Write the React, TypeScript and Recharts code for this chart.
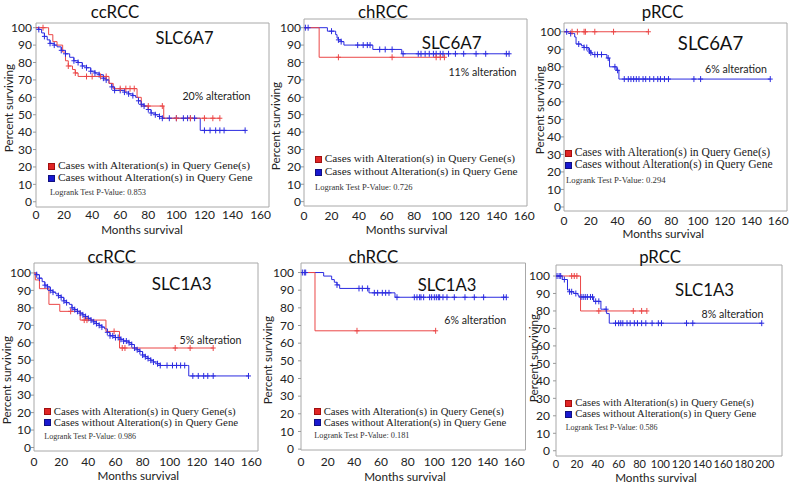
import React from 'react';
import { LineChart, Line, XAxis, YAxis, ReferenceArea } from 'recharts';

type Pt = [number, number, number];

// [month, percent surviving, censored mark]
const ccSlc6a7With: Pt[] = [
  [0, 100, 0], [5, 100, 1], [8, 100, 0], [9, 96, 0], [12, 92, 0], [15, 90, 0], [19, 86, 0], [21, 81, 0],
  [23, 78, 1], [26, 76, 0], [28, 74, 1], [30, 72, 0], [36, 72, 1], [40, 72, 1], [46, 72, 1], [50, 72, 1],
  [52, 68, 0], [55, 65, 0], [60, 65, 1], [64, 65, 1], [67, 65, 1], [70, 65, 1], [72, 60, 0], [75, 55, 0],
  [80, 55, 1], [90, 55, 1], [91, 48, 0], [100, 48, 1], [110, 48, 1], [120, 48, 1], [126, 48, 1], [131, 48, 1],
];
const ccSlc6a7Without: Pt[] = [
  [0, 100, 0], [2, 99, 1], [4, 97, 0], [6, 95, 1], [8, 93, 0], [10, 91, 1], [13, 90, 1], [15, 89, 0],
  [18, 87, 1], [21, 85, 1], [24, 83, 0], [27, 81, 1], [30, 80, 1], [33, 78, 1], [36, 77, 1], [39, 75, 1],
  [42, 74, 1], [45, 73, 1], [48, 71, 1], [50, 70, 1], [52, 68, 0], [54, 66, 1], [56, 64, 1], [60, 64, 1],
  [63, 63, 1], [66, 62, 1], [69, 61, 1], [71, 60, 0], [73, 58, 1], [75, 56, 1], [77, 55, 1], [80, 53, 1],
  [82, 51, 1], [85, 50, 1], [88, 49, 1], [90, 48, 1], [95, 48, 1], [100, 48, 1], [105, 48, 1], [108, 48, 1],
  [110, 48, 1], [113, 48, 1], [116, 48, 0], [117, 41, 0], [120, 41, 1], [124, 41, 1], [128, 41, 1],
  [131, 41, 1], [134, 41, 1], [149, 41, 1],
];

const chSlc6a7With: Pt[] = [
  [0, 100, 0], [11, 100, 0], [11, 83, 0], [25, 83, 1], [64, 83, 1], [96, 83, 1], [99, 83, 1], [102, 83, 1],
];
const chSlc6a7Without: Pt[] = [
  [0, 100, 0], [1, 100, 1], [3, 100, 1], [16, 100, 0], [17, 98, 0], [20, 98, 1], [23, 96, 0], [24, 94, 0],
  [25, 93, 1], [27, 92, 1], [29, 90, 0], [39, 90, 1], [43, 90, 1], [46, 90, 1], [48, 90, 1], [50, 87.5, 0],
  [55, 87.5, 1], [59, 87.5, 1], [64, 87.5, 1], [71, 85, 0], [72, 85, 1], [83, 85, 1], [85, 85, 1], [88, 85, 1],
  [91, 85, 1], [94, 85, 1], [96, 85, 1], [99, 85, 1], [101, 85, 1], [105, 85, 1], [110, 85, 1], [116, 85, 1],
  [125, 85, 1], [132, 85, 1], [147, 85, 1], [149, 85, 1],
];

const pSlc6a7With: Pt[] = [
  [0, 100, 0], [6, 100, 1], [10, 100, 1], [15, 100, 1], [16, 100, 1], [23, 100, 1], [37, 100, 1], [63, 100, 1],
];
const pSlc6a7Without: Pt[] = [
  [0, 100, 0], [2, 100, 1], [4, 100, 0], [5, 99, 1], [7, 99, 0], [8, 97, 0], [9, 93, 0], [11, 93, 1],
  [13, 92, 0], [15, 91, 1], [17, 91, 1], [18, 90, 0], [19, 89, 1], [20, 88, 1], [21, 87, 0], [23, 87, 1],
  [25, 87, 1], [28, 87, 1], [32, 85, 0], [33, 85, 1], [34, 80, 0], [38, 80, 1], [39, 78, 0], [40, 78, 1],
  [41, 73, 0], [45, 73, 1], [48, 73, 1], [50, 73, 1], [52, 73, 1], [54, 73, 1], [56, 73, 1], [59, 73, 1],
  [61, 73, 1], [64, 73, 1], [67, 73, 1], [70, 73, 1], [72, 73, 1], [75, 73, 1], [78, 73, 1], [97, 73, 1],
  [102, 73, 1], [154, 73, 1],
];

const ccSlc1a3With: Pt[] = [
  [0, 100, 0], [1, 96, 0], [4, 91, 0], [11, 82, 0], [19, 78, 0], [27, 78, 1], [34, 73, 0], [37, 73, 1],
  [39, 73, 1], [53, 66.5, 0], [59, 66.5, 1], [63, 57, 0], [65, 57, 1], [67, 57, 1], [104, 57, 1],
  [115, 57, 1], [132, 57, 1],
];
const ccSlc1a3Without: Pt[] = [
  [0, 100, 0], [2, 99, 1], [4, 97, 1], [6, 95, 0], [8, 93, 1], [10, 92, 1], [12, 90, 1], [14, 89, 1],
  [16, 88, 0], [18, 87, 1], [20, 86, 1], [22, 84, 1], [24, 83, 1], [26, 82, 0], [28, 80, 1], [30, 79, 1],
  [32, 78, 1], [34, 77, 1], [36, 76, 1], [38, 75, 1], [40, 74, 1], [42, 73, 1], [44, 72, 1], [46, 71, 1],
  [48, 70, 1], [50, 69, 1], [52, 68, 0], [54, 66, 1], [56, 64, 1], [58, 64, 1], [60, 63, 1], [62, 63, 1],
  [64, 62, 1], [66, 61, 1], [68, 61, 1], [70, 60, 1], [72, 59, 1], [74, 57, 1], [76, 56, 1], [78, 55, 1],
  [80, 53, 1], [82, 52, 1], [84, 51, 1], [86, 50, 1], [88, 49, 1], [91, 48, 1], [93, 47, 1], [98, 47, 1],
  [102, 47, 1], [105, 47, 1], [108, 47, 1], [111, 47, 1], [113, 47, 0], [114, 41, 0], [117, 41, 1],
  [121, 41, 1], [125, 41, 1], [128, 41, 1], [132, 41, 1], [158, 41, 1],
];

const chSlc1a3With: Pt[] = [
  [0, 100, 0], [10.5, 100, 0], [10.5, 67, 0], [42, 67, 1], [101, 67, 1],
];
const chSlc1a3Without: Pt[] = [
  [0, 100, 0], [1, 100, 1], [2.5, 100, 1], [3.5, 100, 1], [17, 98, 0], [23, 96, 0], [25, 94.5, 0], [27, 93, 1],
  [29, 91, 0], [43.5, 91, 1], [46, 91, 1], [50, 91, 1], [51, 88.5, 0], [55, 88.5, 1], [57.5, 88.5, 1],
  [61, 88.5, 1], [63.5, 88.5, 1], [66, 88.5, 1], [70.5, 86, 0], [72, 86, 1], [85, 86, 1], [87, 86, 1],
  [89, 86, 1], [90, 86, 1], [92, 86, 1], [96.5, 86, 1], [98, 86, 1], [100, 86, 1], [101.5, 86, 1],
  [103, 86, 1], [104, 86, 1], [106.5, 86, 1], [109.5, 86, 1], [115, 86, 1], [123, 86, 1], [130, 86, 1],
  [137, 86, 1], [152, 86, 1], [154, 86, 1],
];

const pSlc1a3With: Pt[] = [
  [0, 100, 0], [15, 100, 1], [17.5, 100, 1], [20, 100, 1], [23.5, 100, 0], [23.5, 80, 0], [41, 80, 1],
  [74, 80, 1], [82, 80, 1], [87, 80, 1],
];
const pSlc1a3Without: Pt[] = [
  [0, 100, 0], [1, 100, 1], [3, 100, 1], [4.5, 100, 1], [6, 98, 0], [8, 98, 1], [11, 92, 0], [13, 91, 1],
  [15, 91, 1], [17, 90, 0], [19, 90, 1], [21, 89, 0], [22, 88, 0], [24, 88, 1], [26, 88, 1], [28, 88, 1],
  [30, 88, 1], [33, 88, 1], [35, 88, 1], [36, 85.5, 0], [38, 85.5, 1], [41, 85.5, 1], [43, 81, 0],
  [48, 81, 1], [48.5, 78.5, 0], [51, 73, 0], [57, 73, 1], [60, 73, 1], [62, 73, 1], [64, 73, 1], [68, 73, 1],
  [71, 73, 1], [75, 73, 1], [78, 73, 1], [82, 73, 1], [86, 73, 1], [92, 73, 1], [98, 73, 1], [101, 73, 1],
  [125, 73, 1], [131, 73, 1], [197, 73, 1],
];

const yTicks = [0, 10, 20, 30, 40, 50, 60, 70, 80, 90, 100];
const xTicks160 = [0, 20, 40, 60, 80, 100, 120, 140, 160];
const xTicks200 = [0, 20, 40, 60, 80, 100, 120, 140, 160, 180, 200];

const subtypes = ['ccRCC', 'chRCC', 'pRCC', 'ccRCC', 'chRCC', 'pRCC'];
const genes = ['SLC6A7', 'SLC6A7', 'SLC6A7', 'SLC1A3', 'SLC1A3', 'SLC1A3'];
const alterations = ['20% alteration', '11% alteration', '6% alteration', '5% alteration', '6% alteration', '8% alteration'];
const pValues = ['0.853', '0.726', '0.294', '0.986', '0.181', '0.586'];
const withSeries = [ccSlc6a7With, chSlc6a7With, pSlc6a7With, ccSlc1a3With, chSlc1a3With, pSlc1a3With];
const withoutSeries = [ccSlc6a7Without, chSlc6a7Without, pSlc6a7Without, ccSlc1a3Without, chSlc1a3Without, pSlc1a3Without];

const RED = '#eb4747';
const BLUE = '#2b2be0';
const SANS = 'Lato, "Open Sans", sans-serif';
const SERIF = '"Liberation Serif", "Times New Roman", serif';

// pixel layout of each panel
const layouts = [
  { box: [36, 23, 233, 184], xMax: 166, yMin: -3, yMax: 102.7, xTicks: xTicks160, yGap: 1, xGap: 3, tickFont: 12,
    title: [115, 12], gene: [184.5, 38, 16.5], alt: [216.5, 96], legend: [51, 166, 178, 11.4],
    pval: [50, 193, 8.4], xLabel: [142, 229.5], yLabel: [9, 108] },
  { box: [304, 19, 223, 187], xMax: 162, yMin: -2.5, yMax: 105, xTicks: xTicks160, yGap: 0, xGap: 5, tickFont: 12,
    title: [383, 12], gene: [451.7, 41.7, 17], alt: [482.5, 72.3], legend: [317.7, 159, 171.7, 11.3],
    pval: [315, 187.3, 8.5], xLabel: [406.7, 229.5], yLabel: [276, 126] },
  { box: [564, 23, 223, 188], xMax: 166.5, yMin: -2.3, yMax: 105, xTicks: xTicks160, yGap: 0, xGap: 5, tickFont: 12,
    title: [662.7, 12], gene: [710.5, 43.3, 18.5], alt: [736, 69.3], legend: [567.7, 152.8, 164.6, 11.6],
    pval: [566, 180, 8.7], xLabel: [663.3, 234], yLabel: [540, 110] },
  { box: [34, 263, 224, 188], xMax: 165, yMin: -2, yMax: 105.7, xTicks: xTicks160, yGap: 0, xGap: 6.5, tickFont: 12,
    title: [111.7, 257.3], gene: [181.7, 283.3, 17], alt: [210.5, 340], legend: [46.7, 411.2, 422.2, 10.8],
    pval: [44.3, 436.5, 8], xLabel: [138.3, 475.5], yLabel: [7, 380] },
  { box: [300.5, 263, 224.5, 187], xMax: 168.4, yMin: -0.5, yMax: 105.4, xTicks: xTicks160, yGap: 4, xGap: 7.5, tickFont: 12,
    title: [373.3, 256.7], gene: [447, 285, 16.6], alt: [475.3, 320], legend: [316.7, 410.7, 421.7, 10.7],
    pval: [314.3, 436, 8.3], xLabel: [405, 477], yLabel: [268, 360] },
  { box: [556, 265, 226, 191], xMax: 216.4, yMin: -3, yMax: 106.3, xTicks: xTicks200, yGap: 3, xGap: 4, tickFont: 11,
    title: [660, 256.7], gene: [704.5, 290, 16.8], alt: [732.5, 314], legend: [568.3, 403, 413.8, 10.6],
    pval: [565.7, 428, 8], xLabel: [656, 478.3], yLabel: [534, 358] },
];

const Txt = ({ x, y, size, children, family = SANS, anchor = 'center', rotate = false, color = '#111' }: any) => (
  <div
    style={{
      position: 'absolute',
      left: x,
      top: y,
      fontSize: size,
      fontFamily: family,
      color,
      whiteSpace: 'nowrap',
      lineHeight: 1,
      transform: `${anchor === 'center' ? 'translate(-50%, -50%)' : 'translate(0, -50%)'}${rotate ? ' rotate(-90deg)' : ''}`,
    }}
  >
    {children}
  </div>
);

const censorDot = (color: string) => (props: any) => {
  const { cx, cy, payload, index } = props;
  if (!payload || !payload.c || cx == null) return <g key={`n${index}`} />;
  return (
    <g key={`c${index}`}>
      <line x1={cx} y1={cy - 3} x2={cx} y2={cy + 3} stroke={color} strokeWidth={1} />
      <line x1={cx - 2.5} y1={cy} x2={cx + 2.5} y2={cy} stroke={color} strokeWidth={1} />
    </g>
  );
};

const toRows = (pts: Pt[]) => pts.map(([m, s, c]) => ({ m, s, c }));

const Panel = ({ i }: { i: number }) => {
  const L = layouts[i];
  const [bx, by, bw, bh] = L.box;
  const yAxisW = 30;
  const padR = 14;
  return (
    <>
      <div style={{ position: 'absolute', left: bx - yAxisW, top: by - 2 }}>
        <LineChart
          width={bw + yAxisW + padR}
          height={bh + 2 + 24}
          margin={{ top: 2, right: padR, bottom: 0, left: 0 }}
          style={{ fontFamily: SANS }}
        >
          <XAxis
            type="number"
            dataKey="m"
            domain={[0, L.xMax]}
            ticks={L.xTicks}
            interval={0}
            allowDataOverflow
            axisLine={false}
            tickLine={false}
            tickSize={L.xGap}
            tickMargin={0}
            height={24}
            tick={{ fontSize: L.tickFont, fill: '#222', fontFamily: SANS }}
          />
          <YAxis
            type="number"
            domain={[L.yMin, L.yMax]}
            ticks={yTicks}
            interval={0}
            allowDataOverflow
            axisLine={false}
            tickLine={{ stroke: '#999' }}
            tickSize={3}
            tickMargin={L.yGap}
            width={yAxisW}
            tick={{ fontSize: 12, fill: '#222', fontFamily: SANS }}
          />
          <ReferenceArea x1={0} x2={L.xMax} y1={L.yMin} y2={L.yMax} fill="none" stroke="#a8a8a8" strokeWidth={1} />
          <Line
            data={toRows(withoutSeries[i])}
            dataKey="s"
            type="stepAfter"
            stroke={BLUE}
            strokeWidth={1}
            dot={censorDot(BLUE)}
            activeDot={false}
            isAnimationActive={false}
          />
          <Line
            data={toRows(withSeries[i])}
            dataKey="s"
            type="stepAfter"
            stroke={RED}
            strokeWidth={1}
            dot={censorDot(RED)}
            activeDot={false}
            isAnimationActive={false}
          />
        </LineChart>
      </div>
      <Txt x={L.title[0]} y={L.title[1]} size={16.8}>{subtypes[i]}</Txt>
      <Txt x={L.gene[0]} y={L.gene[1]} size={L.gene[2]}>{genes[i]}</Txt>
      <Txt x={L.alt[0]} y={L.alt[1]} size={10.6} color="#222">{alterations[i]}</Txt>
      <div style={{ position: 'absolute', left: L.legend[0] - 3, top: L.legend[1] - 3, width: 5, height: 5, background: '#e02424', border: '1px solid #a01010' }} />
      <div style={{ position: 'absolute', left: L.legend[0] - 3, top: L.legend[2] - 3, width: 5, height: 5, background: '#1818d0', border: '1px solid #101080' }} />
      <Txt x={L.legend[0] + 7} y={L.legend[1]} size={L.legend[3]} family={SERIF} anchor="left" color="#222">
        Cases with Alteration(s) in Query Gene(s)
      </Txt>
      <Txt x={L.legend[0] + 7} y={L.legend[2]} size={L.legend[3]} family={SERIF} anchor="left" color="#222">
        Cases without Alteration(s) in Query Gene
      </Txt>
      <Txt x={L.pval[0]} y={L.pval[1]} size={L.pval[2]} family={SERIF} anchor="left" color="#333">
        {`Logrank Test P-Value: ${pValues[i]}`}
      </Txt>
      <Txt x={L.xLabel[0]} y={L.xLabel[1]} size={11.7} color="#222">Months survival</Txt>
      <Txt x={L.yLabel[0]} y={L.yLabel[1]} size={11.7} rotate color="#222">Percent surviving</Txt>
    </>
  );
};

export default function App() {
  return (
    <div style={{ position: 'absolute', left: 0, top: 0, width: 792, height: 483, background: '#fff', overflow: 'hidden' }}>
      {layouts.map((_, i) => (
        <Panel key={i} i={i} />
      ))}
    </div>
  );
}
